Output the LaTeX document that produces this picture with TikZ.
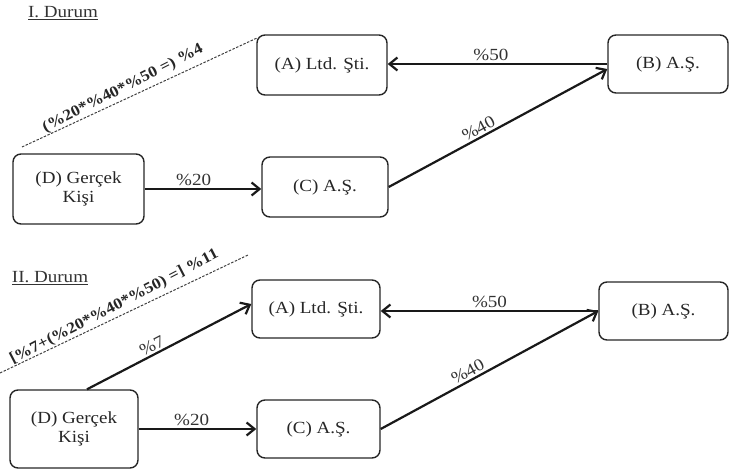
\documentclass[tikz,border=0pt]{standalone}
\usepackage{fontspec}
\setmainfont{Liberation Serif}[FakeStretch=1.12]
\usetikzlibrary{arrows.meta}
\begin{document}
\begin{tikzpicture}[x=1pt,y=1pt,
  box/.style={draw=black!85, line width=1.4pt, rounded corners=8pt, inner sep=0pt,
    align=center, font=\fontsize{17}{19}\selectfont, text=black!85},
  arr/.style={draw=black!90, line width=2.2pt, -{Straight Barb[length=8pt,width=13pt]}},
  lbl/.style={font=\fontsize{17}{19}\selectfont, text=black!80, inner sep=2pt},
  dlbl/.style={font=\fontsize{15.5}{17}\selectfont\bfseries, text=black!85, inner sep=3pt},
  dline/.style={draw=black!75, line width=1pt, dash pattern=on 2.5pt off 1.5pt},
  title/.style={font=\fontsize{17}{19}\selectfont, text=black!80}]
\useasboundingbox (0,0) rectangle (731,472);

% ---------- I. Durum ----------
\node[title] (t1) at (63,459) {\underline{I. Durum}};
\node[box, minimum width=130pt, minimum height=60pt] (A1) at (322,407) {(A) Ltd. Şti.};
\node[box, minimum width=120pt, minimum height=58pt] (B1) at (668,408) {(B) A.Ş.};
\node[box, minimum width=126pt, minimum height=60pt] (C1) at (325,285) {(C) A.Ş.};
\node[box, minimum width=131pt, minimum height=70pt] (D1) at (78.5,283) {(D) Gerçek\\Kişi};

\draw[arr] (D1.east) -- node[lbl, above, pos=0.42] {\%20} (C1.west |- D1.east);
\draw[arr] (C1.east) -- node[lbl, above, sloped, pos=0.43] {\%40} ([yshift=-5pt]B1.west);
\draw[arr] (B1.west) -- node[lbl, above, pos=0.53] {\%50} (A1.east |- B1.west);

\coordinate (p1) at (22,325);
\coordinate (q1) at (257,434);
\draw[dline] (p1) -- node[dlbl, above, sloped, rotate=2, pos=0.45] {(\%20*\%40*\%50 =) \%4} (q1);

% ---------- II. Durum ----------
\node[title] (t2) at (50,194) {\underline{II. Durum}};
\node[box, minimum width=128pt, minimum height=58pt] (A2) at (316,163) {(A) Ltd. Şti.};
\node[box, minimum width=129pt, minimum height=58pt] (B2) at (663.5,161) {(B) A.Ş.};
\node[box, minimum width=123pt, minimum height=58pt] (C2) at (318.5,43) {(C) A.Ş.};
\node[box, minimum width=128pt, minimum height=78pt] (D2) at (74,43) {(D) Gerçek\\Kişi};

\draw[arr] (D2.east) -- node[lbl, above, pos=0.45] {\%20} (C2.west |- D2.east);
\draw[arr] ([xshift=13pt]D2.north) -- node[lbl, above, sloped, pos=0.42] {\%7} ([yshift=5pt]A2.west);
\draw[arr] (C2.east) -- node[lbl, above, sloped, pos=0.42] {\%40} (B2.west);
\draw[arr] (B2.west) -- node[lbl, above, pos=0.5] {\%50} (A2.east |- B2.west);

\coordinate (p2) at (0,99);
\coordinate (q2) at (248,217);
\draw[dline] (p2) -- node[dlbl, above, sloped, rotate=2, pos=0.48] {[\%7+(\%20*\%40*\%50) =] \%11} (q2);
\end{tikzpicture}
\end{document}
